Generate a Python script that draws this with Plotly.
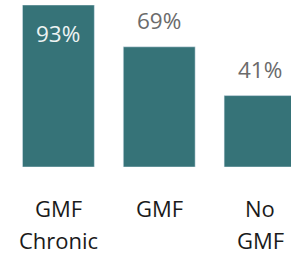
import plotly.graph_objects as go

categories = ["GMF Chronic", "GMF", "No GMF"]
tick_lines = [["GMF", "Chronic"], ["GMF"], ["No", "GMF"]]
values = [93, 69, 41]

BAR = "#367378"
FONT = "Open Sans"

fig = go.Figure(go.Bar(x=categories, y=values, marker_color=BAR, width=0.713,
                       hoverinfo="skip"))

anns = []
for c, v in zip(categories, values):
    inside = v > 80
    anns.append(dict(x=c, y=v, xref="x", yref="y", text=f"{v}%", showarrow=False,
                     yanchor="middle", yshift=-28 if inside else 26,
                     font=dict(family=FONT, size=22.5,
                               color="#eef3f3" if inside else "#6b6b6b")))
for c, lines in zip(categories, tick_lines):
    for i, ln in enumerate(lines):
        anns.append(dict(x=c, y=0, xref="x", yref="y", text=ln, showarrow=False,
                         yanchor="middle", yshift=-41 - i * 32,
                         font=dict(family=FONT, size=22, color="#1a1a1a")))

fig.update_layout(
    width=291, height=254,
    margin=dict(l=7.5, r=0, t=5, b=87.3),
    paper_bgcolor="white", plot_bgcolor="white",
    showlegend=False,
    annotations=anns,
    xaxis=dict(range=[-0.5, 2.307], showticklabels=False, showgrid=False,
               zeroline=False, showline=False, ticks=""),
    yaxis=dict(range=[0, 93], visible=False, showgrid=False, zeroline=False),
)
fig.write_html("out.html", config={"displayModeBar": False},
               post_script="document.body.style.margin='0';")
